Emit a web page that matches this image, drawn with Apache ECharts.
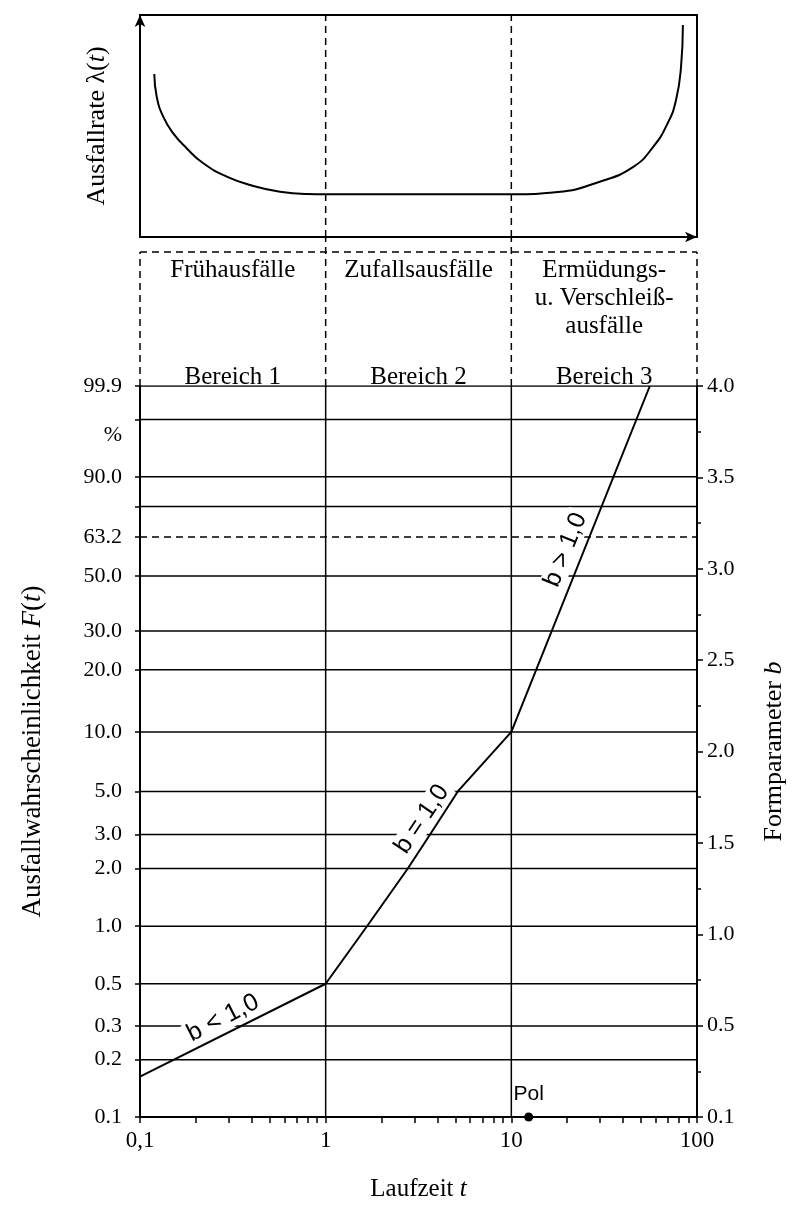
<!DOCTYPE html>
<html>
<head>
<meta charset="utf-8">
<script src="https://cdn.jsdelivr.net/npm/echarts@6/dist/echarts.min.js"></script>
<style>
  html, body { margin: 0; background: #fff; }
  #chart { width: 805px; height: 1216px; }
</style>
</head>
<body>
<div id="chart"></div>
<script>
// top panel: bathtub curve, x in "Bereich" units (0..3), y arbitrary (0..10)
const bathtubX = [0.077, 0.09, 0.125, 0.179, 0.251, 0.341, 0.467, 0.61, 0.754, 0.898, 1.0, 2.0, 2.251, 2.472, 2.655, 2.763, 2.843, 2.887, 2.914, 2.924];
const bathtubY = [7.34, 6.32, 5.42, 4.67, 4.0, 3.32, 2.72, 2.3, 2.04, 1.94, 1.93, 1.93, 2.03, 2.48, 3.15, 4.05, 5.14, 6.17, 7.66, 9.55];
const regionDividers = [1, 2];
const boxTop = 0.9;

const regionNames = ['Frühausfälle', 'Zufallsausfälle', 'Ermüdungs-'];
const regionNamesY = [0.778, 0.778, 0.778];
const region3Extra = ['u. Verschleiß-', 'ausfälle'];
const region3ExtraY = [0.59, 0.403];
const bereichLabels = ['Bereich 1', 'Bereich 2', 'Bereich 3'];
const bereichY = 0.06;

// probability paper: F(t) in %
const gridLevels = [0.1, 0.2, 0.3, 0.5, 1, 2, 3, 5, 10, 20, 30, 50, 80, 90, 99, 99.9];
const charLifeAt = 67.1;            // where the 63.2 % line is drawn
const probLabels = ['0.1', '0.2', '0.3', '0.5', '1.0', '2.0', '3.0', '5.0', '10.0', '20.0', '30.0', '50.0', '63.2', '90.0', '%', '99.9'];
const probLabelAt = [0.1, 0.2, 0.3, 0.5, 1, 2, 3, 5, 10, 20, 30, 50, 67.1, 90, 97.8, 99.9];

// Laufzeit t (log)
const tTicks = [0.1, 0.2, 0.3, 0.4, 0.5, 0.6, 0.7, 0.8, 0.9, 1, 2, 3, 4, 5, 6, 7, 8, 9, 10, 20, 30, 40, 50, 60, 70, 80, 90, 100];
const tLabelAt = [0.1, 1, 10, 100];
const tLabels = ['0,1', '1', '10', '100'];
const tVerticals = [1, 10];

// failure curve
const curveT = [0.1, 1, 1.67, 2.77, 3.65, 5.15, 10, 55.7];
const curveF = [0.163, 0.5, 1.0, 2.0, 3.0, 5.0, 10, 99.9];

// Formparameter b (right axis)
const bLabels = ['0.1', '0.5', '1.0', '1.5', '2.0', '2.5', '3.0', '3.5', '4.0'];

const bTexts = ['b < 1,0', 'b = 1,0', 'b > 1,0'];
const bTextT = [0.28, 3.3, 19.6];
const bTextF = [0.33, 3.6, 61.4];
const bTextRot = [27, 56, 68];

const polT = 12.4, polF = 0.1;

const W = F => Math.log(-Math.log(1 - F / 100));
const wMin = W(0.1), wMax = W(99.9);

const SERIF = 'Liberation Serif';
const SANS = 'Liberation Sans';
const ink = '#000';

function seg(xi, yi, pts, extra) {
  return Object.assign({
    type: 'line', xAxisIndex: xi, yAxisIndex: yi, data: pts,
    symbol: 'none', silent: true, animation: false, z: 2,
    lineStyle: { color: ink, width: 1.5 }
  }, extra || {});
}
const dashed = { color: ink, width: 1.5, type: [7, 5] };

const series = [];

// top panel
series.push(seg(0, 0, bathtubX.map((x, i) => [x, bathtubY[i]]), {
  smooth: 0.5, z: 4, lineStyle: { color: ink, width: 2 }
}));
regionDividers.forEach(x => series.push(seg(0, 0, [[x, 0], [x, 10]], { lineStyle: dashed })));

// middle box
series.push(seg(3, 4, [[0, boxTop], [3, boxTop]], { lineStyle: dashed }));
[0, 3].forEach(x => series.push(seg(3, 4, [[x, 0], [x, boxTop]], { lineStyle: dashed })));
regionDividers.forEach(x => series.push(seg(3, 4, [[x, 0], [x, 1]], { lineStyle: dashed })));

const boxText = [];
regionNames.forEach((s, i) => boxText.push({ value: [i + 0.5, regionNamesY[i]], name: s }));
region3Extra.forEach((s, i) => boxText.push({ value: [2.5, region3ExtraY[i]], name: s }));
bereichLabels.forEach((s, i) => boxText.push({ value: [i + 0.5, bereichY], name: s }));
series.push({
  type: 'scatter', xAxisIndex: 3, yAxisIndex: 4, symbolSize: 0, silent: true, animation: false,
  itemStyle: { opacity: 1 },
  data: boxText,
  label: { show: true, position: 'inside', formatter: p => p.name, color: ink, textBorderWidth: 0,
    fontFamily: SERIF, fontSize: 25 }
});

// probability grid
gridLevels.forEach(F => series.push(seg(2, 2, [[0.1, W(F)], [100, W(F)]])));
series.push(seg(2, 2, [[0.1, W(charLifeAt)], [100, W(charLifeAt)]], { lineStyle: dashed }));
tVerticals.forEach(t => series.push(seg(2, 2, [[t, wMin], [t, wMax]])));

// b texts (white background breaks the grid lines)
series.push({
  type: 'scatter', xAxisIndex: 2, yAxisIndex: 2, symbolSize: 0, silent: true, animation: false, z: 3,
  itemStyle: { opacity: 1 },
  data: bTexts.map((s, i) => ({
    value: [bTextT[i], W(bTextF[i])], name: s,
    label: { rotate: bTextRot[i] }
  })),
  label: {
    show: true, position: 'inside', formatter: p => p.name, color: ink, textBorderWidth: 0,
    fontFamily: SANS, fontSize: 25, backgroundColor: '#fff', padding: [0, 3]
  }
});

// curve
series.push(seg(2, 2, curveT.map((t, i) => [t, W(curveF[i])]), { z: 5, lineStyle: { color: ink, width: 2 } }));

// Pol
series.push({
  type: 'scatter', xAxisIndex: 2, yAxisIndex: 2, clip: false, silent: true, animation: false, z: 6,
  symbol: 'circle', symbolSize: 9, itemStyle: { color: ink, opacity: 1 },
  data: [{ value: [polT, W(polF)], name: 'Pol' }],
  label: { show: true, position: 'top', distance: 8, formatter: 'Pol', color: ink, textBorderWidth: 0,
    fontFamily: SANS, fontSize: 21 }
});

const axisLineStyle = { color: ink, width: 2 };
function nameStyle(size) {
  return {
    color: ink, fontFamily: SERIF, fontSize: size,
    rich: { i: { fontStyle: 'italic', fontFamily: SERIF, fontSize: size, color: ink } }
  };
}
const hidden = { axisTick: { show: false }, axisLabel: { show: false }, splitLine: { show: false } };

const chart = echarts.init(document.getElementById('chart'));
chart.setOption({
  animation: false,
  backgroundColor: '#fff',
  grid: [
    { left: 140, top: 15, width: 557, height: 222 },
    { left: 140, top: 386, width: 557, height: 731 },
    { left: 140, top: 237, width: 557, height: 149 }
  ],
  xAxis: [
    Object.assign({ gridIndex: 0, type: 'value', min: 0, max: 3, position: 'bottom',
      axisLine: { show: true, onZero: false, lineStyle: axisLineStyle, symbol: ['none', 'arrow'], symbolSize: [8, 12] } }, hidden),
    Object.assign({ gridIndex: 0, type: 'value', min: 0, max: 3, position: 'top',
      axisLine: { show: true, onZero: false, lineStyle: axisLineStyle } }, hidden),
    { gridIndex: 1, type: 'log', logBase: 10, min: 0.1, max: 100, position: 'bottom',
      axisLine: { show: true, onZero: false, lineStyle: axisLineStyle },
      axisTick: { show: true, customValues: tTicks, length: 6, lineStyle: { color: ink, width: 1.5 } },
      axisLabel: {
        show: true, customValues: tLabelAt, margin: 12, color: ink, fontFamily: SERIF, fontSize: 23,
        formatter: v => { const k = tLabelAt.findIndex(a => Math.abs(Math.log10(a) - Math.log10(v)) < 0.01); return k >= 0 ? tLabels[k] : ''; }
      },
      splitLine: { show: false },
      name: 'Laufzeit {i|t}', nameLocation: 'middle', nameGap: 60, nameTextStyle: nameStyle(25) },
    { gridIndex: 2, type: 'value', min: 0, max: 3, show: false }
  ],
  yAxis: [
    Object.assign({ gridIndex: 0, type: 'value', min: 0, max: 10, position: 'left',
      axisLine: { show: true, onZero: false, lineStyle: axisLineStyle, symbol: ['none', 'arrow'], symbolSize: [8, 12] },
      name: 'Ausfallrate λ({i|t})', nameLocation: 'middle', nameRotate: 90, nameGap: 30, nameTextStyle: nameStyle(26) }, hidden),
    Object.assign({ gridIndex: 0, type: 'value', min: 0, max: 10, position: 'right',
      axisLine: { show: true, onZero: false, lineStyle: axisLineStyle } }, hidden),
    { gridIndex: 1, type: 'value', min: wMin, max: wMax, position: 'left',
      axisLine: { show: true, onZero: false, lineStyle: axisLineStyle },
      axisTick: { show: true, customValues: gridLevels.map(W).concat([W(charLifeAt)]), length: 5, lineStyle: { color: ink, width: 1.5 } },
      axisLabel: {
        show: true, customValues: probLabelAt.map(W), margin: 18, color: ink, fontFamily: SERIF, fontSize: 22,
        formatter: v => {
          let best = 0, d = Infinity;
          probLabelAt.forEach((F, k) => { const dd = Math.abs(W(F) - v); if (dd < d) { d = dd; best = k; } });
          return probLabels[best];
        }
      },
      splitLine: { show: false },
      name: 'Ausfallwahrscheinlichkeit {i|F}({i|t})', nameLocation: 'middle', nameRotate: 90, nameGap: 94, nameTextStyle: nameStyle(27) },
    { gridIndex: 1, type: 'value', min: 0, max: 4, interval: 0.5, position: 'right',
      axisLine: { show: true, onZero: false, lineStyle: axisLineStyle },
      axisTick: { show: true, length: 6, lineStyle: { color: ink, width: 1.5 } },
      minorTick: { show: true, splitNumber: 2, length: 4, lineStyle: { color: ink, width: 1.5 } },
      axisLabel: { show: true, margin: 10, color: ink, fontFamily: SERIF, fontSize: 22,
        formatter: v => bLabels[Math.round(v / 0.5)] },
      splitLine: { show: false }, minorSplitLine: { show: false },
      name: 'Formparameter {i|b}', nameLocation: 'middle', nameRotate: 90, nameGap: 64, nameTextStyle: nameStyle(26) },
    { gridIndex: 2, type: 'value', min: 0, max: 1, show: false }
  ],
  series: series
});
</script>
</body>
</html>
